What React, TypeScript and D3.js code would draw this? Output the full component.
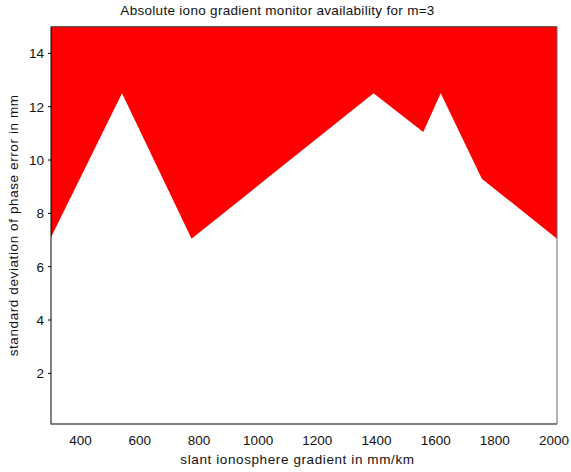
import React from "react";
import * as d3 from "d3";

const boundaryX = [300, 540, 775, 1390, 1558, 1617, 1756, 2010];
const boundaryY = [7.1, 12.5, 7.05, 12.5, 11.05, 12.5, 9.3, 7.05];
const xTicks = [400, 600, 800, 1000, 1200, 1400, 1600, 1800, 2000];
const yTicks = [2, 4, 6, 8, 10, 12, 14];
const title = "Absolute iono gradient monitor availability for m=3";
const xLabel = "slant ionosphere gradient in mm/km";
const yLabel = "standard deviation of phase error in mm";

const W = 571, H = 472;
const L = 51, R = 557, T = 26.7, B = 424;

export default function App() {
  const x = d3.scaleLinear().domain([300, 2010]).range([L, R]);
  const y = d3.scaleLinear().domain([0.1, 15]).range([B, T]);
  const pts: [number, number][] = boundaryX.map((v, i) => [x(v), y(boundaryY[i])]);
  const area = d3.area<[number, number]>()
    .x(d => d[0])
    .y0(y(15))
    .y1(d => d[1]);
  const font = "'Liberation Sans', Arial, sans-serif";
  return (
    <svg width={W} height={H} style={{ position: "absolute", left: 0, top: 0 }} fontFamily={font}>
      <rect x={0} y={0} width={W} height={H} fill="#ffffff" />
      <path d={area(pts) || ""} fill="#ff0000" />
      <line x1={L} y1={T} x2={R} y2={T} stroke="#444" strokeWidth={1} />
      <line x1={R} y1={T} x2={R} y2={B} stroke="#666" strokeWidth={1} />
      <line x1={L} y1={T} x2={L} y2={B + 0.5} stroke="#000" strokeWidth={1} />
      <line x1={L} y1={B} x2={R} y2={B} stroke="#555" strokeWidth={1.5} />
      {yTicks.map(t => (
        <g key={t}>
          <line x1={L - 3} x2={L} y1={y(t)} y2={y(t)} stroke="#000" />
          <text x={L - 7} y={y(t) + 5} fontSize={13.5} textAnchor="end" fill="#111">{t}</text>
        </g>
      ))}
      {xTicks.map(t => (
        <text key={t} x={x(t)} y={445} fontSize={13.5} textAnchor="middle" fill="#111">{t}</text>
      ))}
      <text x={277.5} y={15} fontSize={13.5} letterSpacing={0.3} textAnchor="middle" fill="#111">{title}</text>
      <text x={297.5} y={464} fontSize={13.5} letterSpacing={0.6} textAnchor="middle" fill="#111">{xLabel}</text>
      <text transform={`translate(18, ${(T + B) / 2}) rotate(-90)`} fontSize={13.5} letterSpacing={0.6} textAnchor="middle" fill="#111">{yLabel}</text>
    </svg>
  );
}
